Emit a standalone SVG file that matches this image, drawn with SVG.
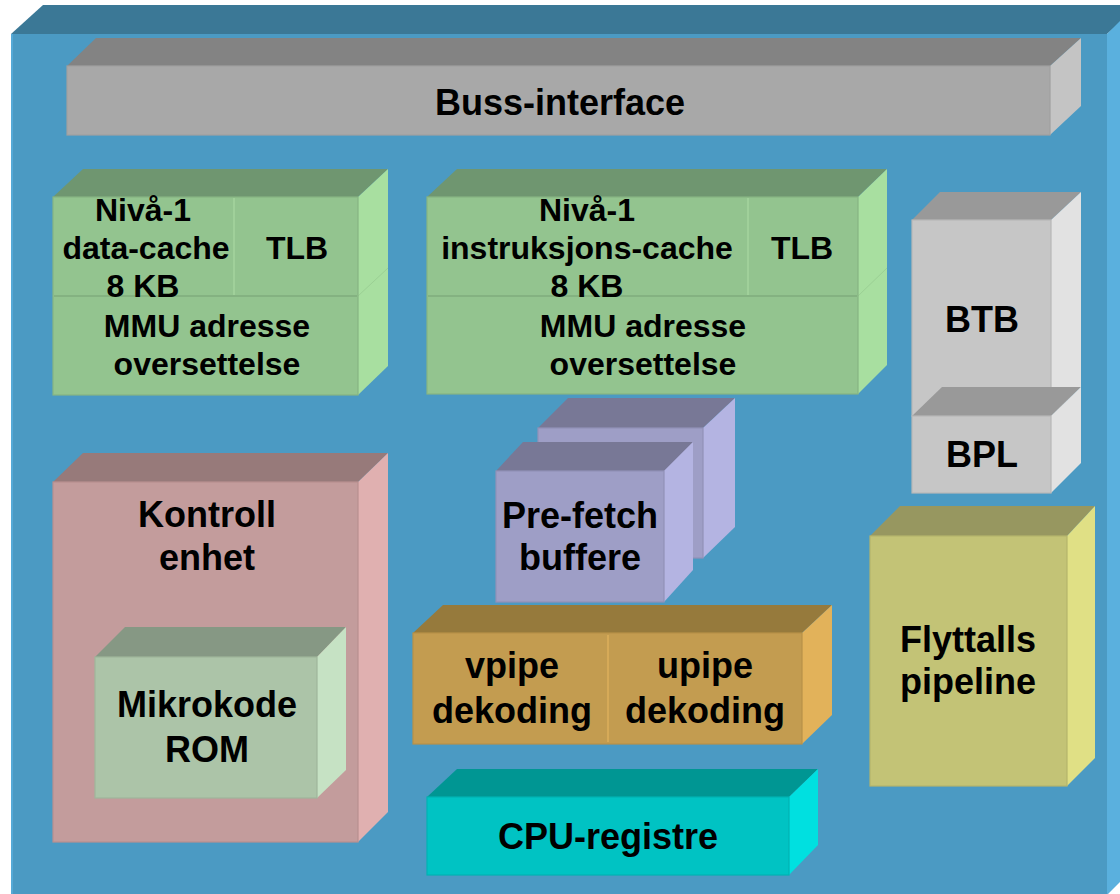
<svg xmlns="http://www.w3.org/2000/svg" width="1120" height="894" viewBox="0 0 1120 894">
  <style>
    text { font-family: "Liberation Sans", Arial, sans-serif; font-weight: bold; fill: #000; text-anchor: middle; }
    .t36 { font-size: 36px; }
    .t32 { font-size: 32px; }
    .edge { stroke-width: 1.2; }
    /* chip body */
    .bg-front { fill: #4b9ac3; }
    .bg-top { fill: #3b7896; }
    .bg-side { fill: #5ab0de; }
    /* grey blocks */
    .bus-top { fill: #838383; }
    .bus-front { fill: #a8a8a8; stroke: #a0a0a0; }
    .bus-side { fill: #c4c4c4; }
    .btb-top { fill: #999999; }
    .btb-front { fill: #c6c6c6; stroke: #b8b8b8; }
    .btb-side { fill: #e2e2e2; }
    /* green caches */
    .cache-top { fill: #6f9670; }
    .cache-front { fill: #93c48f; stroke: #86b583; }
    .cache-side { fill: #a8dfa0; }
    .cache-div { stroke: #a4d49e; stroke-width: 1.5; fill: none; }
    .cache-hdiv { stroke: #84b281; stroke-width: 2; fill: none; }
    .cache-sdiv { stroke: #9bd094; stroke-width: 1; fill: none; }
    /* prefetch */
    .pf-top { fill: #787896; }
    .pf-front { fill: #9e9ec6; stroke: #9292b8; }
    .pf-side { fill: #b4b4e2; }
    /* control unit */
    .ku-top { fill: #977a7a; }
    .ku-front { fill: #c39c9c; stroke: #b89090; }
    .ku-side { fill: #e0b0b0; }
    /* microcode rom */
    .rom-top { fill: #869884; }
    .rom-front { fill: #acc4a8; stroke: #9fb69b; }
    .rom-side { fill: #c6e2c4; }
    /* decoders */
    .dec-top { fill: #967a3c; }
    .dec-front { fill: #c39c50; stroke: #b89248; }
    .dec-side { fill: #e2b25a; }
    .dec-div { stroke: #d6aa58; stroke-width: 2; fill: none; }
    /* registers */
    .reg-top { fill: #009693; }
    .reg-front { fill: #00c3c3; stroke: #00b3b3; }
    .reg-side { fill: #00e0e0; }
    /* floating point */
    .fp-top { fill: #979760; }
    .fp-front { fill: #c3c376; stroke: #b5b56c; }
    .fp-side { fill: #e0e085; }
  </style>

  <rect x="0" y="0" width="1120" height="894" fill="#ffffff"/>

  <!-- chip body -->
  <g id="chip">
    <polygon class="bg-top" points="11,34 43,5 1140,5 1107,34"/>
    <polygon class="bg-side" points="1107,34 1140,1 1140,862 1107,895"/>
    <rect class="bg-front" x="11" y="34" width="1096" height="870"/>
    <line x1="12" y1="34" x2="12" y2="894" stroke="#5aaedc" stroke-width="1.5"/>
  </g>

  <g id="buss-interface">
    <polygon class="bus-top" points="67,66 96,38 1081,38 1050,66"/>
    <polygon class="bus-side" points="1050,66 1081,38 1081,106 1050,135"/>
    <rect class="bus-front edge" x="67" y="66" width="983" height="69"/>
    <text class="t36" x="560" y="115">Buss-interface</text>
  </g>

  <g id="data-cache">
    <polygon class="cache-top" points="53,197 83,169 388,169 358,197"/>
    <polygon class="cache-side" points="358,197 388,169 388,366 358,395"/>
    <line class="cache-sdiv" x1="358" y1="296" x2="388" y2="268"/>
    <rect class="cache-front edge" x="53" y="197" width="305" height="198"/>
    <line class="cache-div" x1="234" y1="198" x2="234" y2="295"/>
    <line class="cache-hdiv" x1="54" y1="296" x2="357" y2="296"/>
    <text class="t32" x="143" y="221">Nivå-1</text>
    <text class="t32" x="146" y="259">data-cache</text>
    <text class="t32" x="143" y="297">8 KB</text>
    <text class="t32" x="297" y="259">TLB</text>
    <text class="t32" x="207" y="337">MMU adresse</text>
    <text class="t32" x="207" y="375">oversettelse</text>
  </g>

  <g id="instruksjons-cache">
    <polygon class="cache-top" points="427,197 457,169 887,169 858,197"/>
    <polygon class="cache-side" points="858,197 887,169 887,365 858,394"/>
    <line class="cache-sdiv" x1="858" y1="296" x2="887" y2="268"/>
    <rect class="cache-front edge" x="427" y="197" width="431" height="197"/>
    <line class="cache-div" x1="748" y1="198" x2="748" y2="295"/>
    <line class="cache-hdiv" x1="428" y1="296" x2="857" y2="296"/>
    <text class="t32" x="587" y="221">Nivå-1</text>
    <text class="t32" x="587" y="259">instruksjons-cache</text>
    <text class="t32" x="587" y="297">8 KB</text>
    <text class="t32" x="802" y="259">TLB</text>
    <text class="t32" x="643" y="337">MMU adresse</text>
    <text class="t32" x="643" y="375">oversettelse</text>
  </g>

  <g id="btb">
    <polygon class="btb-top" points="912,220 940,192 1081,192 1051,220"/>
    <polygon class="btb-side" points="1051,220 1081,192 1081,387 1051,416"/>
    <rect class="btb-front edge" x="912" y="220" width="139" height="196"/>
    <text class="t36" x="982" y="332">BTB</text>
  </g>

  <g id="bpl">
    <polygon class="btb-top" points="912,416 942,387 1081,387 1051,416"/>
    <polygon class="btb-side" points="1051,416 1081,387 1081,463 1051,493"/>
    <rect class="btb-front edge" x="912" y="416" width="139" height="77"/>
    <text class="t36" x="982" y="467">BPL</text>
  </g>

  <g id="prefetch-buffere">
    <!-- rear buffer -->
    <polygon class="pf-top" points="538,428 568,398 735,398 703,428"/>
    <polygon class="pf-side" points="703,428 735,398 735,527 703,558"/>
    <rect class="pf-front edge" x="538" y="428" width="165" height="130"/>
    <!-- front buffer -->
    <polygon class="pf-top" points="496,471 523,442 693,442 664,471"/>
    <polygon class="pf-side" points="664,471 693,442 693,570 664,602"/>
    <rect class="pf-front edge" x="496" y="471" width="168" height="131"/>
    <text class="t36" x="580" y="528">Pre-fetch</text>
    <text class="t36" x="580" y="570">buffere</text>
  </g>

  <g id="kontrollenhet">
    <polygon class="ku-top" points="53,482 83,453 388,453 358,482"/>
    <polygon class="ku-side" points="358,482 388,453 388,812 358,842"/>
    <rect class="ku-front edge" x="53" y="482" width="305" height="360"/>
    <text class="t36" x="207" y="527">Kontroll</text>
    <text class="t36" x="207" y="570">enhet</text>
  </g>

  <g id="mikrokode-rom">
    <polygon class="rom-top" points="95,657 125,627 346,627 317,657"/>
    <polygon class="rom-side" points="317,657 346,627 346,770 317,798"/>
    <rect class="rom-front edge" x="95" y="657" width="222" height="141"/>
    <text class="t36" x="207" y="717">Mikrokode</text>
    <text class="t36" x="207" y="762">ROM</text>
  </g>

  <g id="dekoding">
    <polygon class="dec-top" points="413,633 443,605 832,605 802,633"/>
    <polygon class="dec-side" points="802,633 832,605 832,715 802,744"/>
    <rect class="dec-front edge" x="413" y="633" width="389" height="111"/>
    <line class="dec-div" x1="608" y1="635" x2="608" y2="742"/>
    <text class="t36" x="512" y="678">vpipe</text>
    <text class="t36" x="512" y="723">dekoding</text>
    <text class="t36" x="705" y="678">upipe</text>
    <text class="t36" x="705" y="723">dekoding</text>
  </g>

  <g id="cpu-registre">
    <polygon class="reg-top" points="427,797 457,769 818,769 789,797"/>
    <polygon class="reg-side" points="789,797 818,769 818,845 789,875"/>
    <rect class="reg-front edge" x="427" y="797" width="362" height="78"/>
    <text class="t36" x="608" y="849">CPU-registre</text>
  </g>

  <g id="flyttalls-pipeline">
    <polygon class="fp-top" points="870,536 900,506 1095,506 1067,536"/>
    <polygon class="fp-side" points="1067,536 1095,506 1095,758 1067,786"/>
    <rect class="fp-front edge" x="870" y="536" width="197" height="250"/>
    <text class="t36" x="968" y="652">Flyttalls</text>
    <text class="t36" x="968" y="694">pipeline</text>
  </g>
</svg>
